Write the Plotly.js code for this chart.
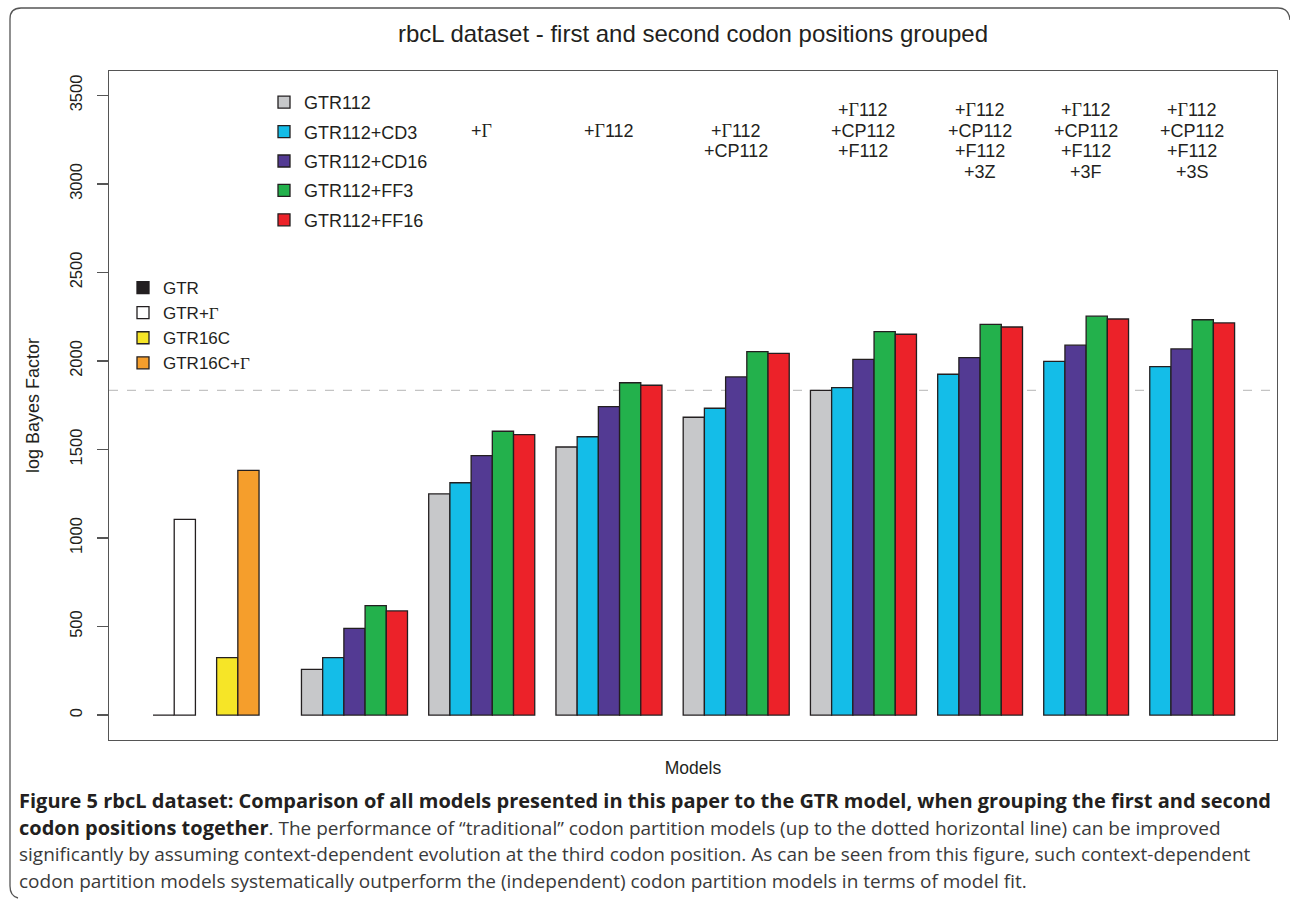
<!DOCTYPE html>
<html>
<head>
<meta charset="utf-8">
<script src="https://cdn.plot.ly/plotly-3.0.1.min.js"></script>
<style>
html,body{margin:0;padding:0;background:#ffffff;}
#chart{width:1290px;height:899px;}
</style>
</head>
<body>
<div id="chart"></div>
<script>
// ---------------- data ----------------
const baseModels = ['GTR', 'GTR+Γ', 'GTR16C', 'GTR16C+Γ'];
const baseValues = [0, 1105, 324, 1382];
const baseGroups = [[0, 1], [2, 3]];

const codonModels = ['GTR112', 'GTR112+CD3', 'GTR112+CD16', 'GTR112+FF3', 'GTR112+FF16'];
const groupLabels = [
  [],
  ['+Γ'],
  ['+Γ112'],
  ['+Γ112', '+CP112'],
  ['+Γ112', '+CP112', '+F112'],
  ['+Γ112', '+CP112', '+F112', '+3Z'],
  ['+Γ112', '+CP112', '+F112', '+3F'],
  ['+Γ112', '+CP112', '+F112', '+3S']
];
const gtr112     = [258, 1249, 1514, 1682, 1834, null, null, null];
const gtr112CD3  = [324, 1312, 1572, 1733, 1849, 1925, 1998, 1968];
const gtr112CD16 = [490, 1465, 1742, 1910, 2009, 2019, 2089, 2068];
const gtr112FF3  = [618, 1603, 1877, 2053, 2166, 2207, 2253, 2233];
const gtr112FF16 = [588, 1584, 1863, 2043, 2151, 2192, 2237, 2215];
const codonSeries = [gtr112, gtr112CD3, gtr112CD16, gtr112FF3, gtr112FF16];
const traditionalBest = 1834;
const yTicks = [0, 500, 1000, 1500, 2000, 2500, 3000, 3500];

const chartTitle = 'rbcL dataset - first and second codon positions grouped';
const xTitle = 'Models';
const yTitle = 'log Bayes Factor';
const captionLines = [
  '<b><span style="color:#231f20;font-size:20px">Figure 5 rbcL dataset: Comparison of all models presented in this paper to the GTR model, when grouping the first and second</span></b>',
  '<b><span style="color:#231f20;font-size:20px">codon positions together</span></b>. The performance of “traditional” codon partition models (up to the dotted horizontal line) can be improved',
  'significantly by assuming context-dependent evolution at the third codon position. As can be seen from this figure, such context-dependent',
  'codon partition models systematically outperform the (independent) codon partition models in terms of model fit.'
];

// ---------------- styles ----------------
const baseColors = ['#231f20', '#ffffff', '#f6e527', '#f59e2c'];
const codonColors = ['#c7c8ca', '#14bde8', '#533a93', '#23b14c', '#ec2229'];
const outline = '#231f20';
const SANS = 'Liberation Sans, Arial, sans-serif';
const SERIF = 'Liberation Serif, Times New Roman, serif';
const CAP = 'Open Sans, Noto Sans, sans-serif';

// ---------------- layout of bars (units) ----------------
const xBase = [];
let cursor = 0;
baseGroups.forEach((g, gi) => {
  if (gi > 0) cursor += 1;
  g.forEach(idx => { xBase[idx] = cursor + 0.5; cursor += 1; });
});
cursor += 2;
const codonX = codonSeries.map(() => []);
const groupCenters = [];
for (let g = 0; g < groupLabels.length; g++) {
  if (g > 0) cursor += 1;
  const start = cursor;
  codonSeries.forEach((s, si) => {
    if (s[g] !== null) { codonX[si][g] = cursor + 0.5; cursor += 1; }
    else codonX[si][g] = null;
  });
  groupCenters.push((start + cursor) / 2);
}

// pixel helpers for layout placement (plot area 109..1277 x 71..740)
const PL = 109, PR = 1277, PT = 71, PB = 740;
const px = x => (x - PL) / (PR - PL);
const py = y => (PB - y) / (PB - PT);

const gammaSerif = s => s.replace(/Γ/g, '<span style="font-family:' + SERIF + '">Γ</span>');

const traces = [];
codonModels.forEach((name, si) => {
  traces.push({
    type: 'bar', name: name, legend: 'legend', legendgroup: name,
    x: codonX[si], y: codonSeries[si], width: 1,
    marker: {color: codonColors[si], line: {color: outline, width: 1.3}},
    hoverinfo: 'x+y+name'
  });
});
baseModels.forEach((name, i) => {
  traces.push({
    type: 'bar', name: gammaSerif(name), legend: 'legend2',
    x: [xBase[i]], y: [baseValues[i]], width: 1,
    marker: {color: baseColors[i], line: {color: outline, width: 1.3}},
    hoverinfo: 'y+name'
  });
});

const annotations = [];
groupLabels.forEach((lines, g) => {
  const n = lines.length;
  const top = 3300 + 115 * Math.floor((n - 1) / 2);
  lines.forEach((t, i) => {
    annotations.push({
      x: groupCenters[g], xref: 'x', y: top - 115 * i, yref: 'y',
      text: gammaSerif(t), showarrow: false, xanchor: 'center', yanchor: 'middle',
      font: {family: SANS, size: 18, color: '#231f20'}
    });
  });
});
const capY = [801, 827, 854, 881];
captionLines.forEach((t, i) => {
  annotations.push({
    x: px(17), xref: 'paper', y: py(capY[i]), yref: 'paper',
    text: t, showarrow: false, xanchor: 'left', yanchor: 'middle', align: 'left',
    font: {family: CAP, size: 19, color: '#3a3a3a'}
  });
});

const framePath = 'M ' + px(1290) + ' ' + py(20) +
  ' Q ' + px(1289) + ' ' + py(8) + ' ' + px(1278) + ' ' + py(8) +
  ' L ' + px(21) + ' ' + py(8) +
  ' Q ' + px(10) + ' ' + py(8) + ' ' + px(10) + ' ' + py(19) +
  ' L ' + px(10) + ' ' + py(886) +
  ' Q ' + px(10) + ' ' + py(896) + ' ' + px(18) + ' ' + py(898);

const layout = {
  width: 1290, height: 899,
  margin: {l: PL, r: 1290 - PR, t: PT, b: 899 - PB, pad: 0},
  paper_bgcolor: '#ffffff', plot_bgcolor: '#ffffff',
  barmode: 'overlay',
  showlegend: true,
  title: {
    text: chartTitle, font: {family: SANS, size: 24, color: '#231f20'},
    x: 0.5, xref: 'paper', xanchor: 'center', y: 1 - 34 / 899, yref: 'container', yanchor: 'middle'
  },
  xaxis: {
    range: [-2.075, 53.0], showticklabels: false, ticks: '', showgrid: false, zeroline: false,
    showline: true, mirror: true, linecolor: '#555555', linewidth: 1.3,
    title: {text: xTitle, font: {family: SANS, size: 17.5, color: '#231f20'}, standoff: 21}
  },
  yaxis: {
    range: [-141, 3638], tickmode: 'array', tickvals: yTicks, ticktext: yTicks.map(String),
    ticks: 'outside', ticklen: 11, tickwidth: 1.2, tickcolor: '#555555', tickangle: -90,
    ticklabelstandoff: 8,
    tickfont: {family: SANS, size: 16.5, color: '#231f20'},
    showgrid: false, zeroline: false,
    showline: true, mirror: true, linecolor: '#555555', linewidth: 1.3,
    title: {text: yTitle, font: {family: SANS, size: 18, color: '#231f20'}, standoff: 22}
  },
  legend: {
    x: px(264), xanchor: 'left', y: py(84), yanchor: 'top',
    bgcolor: 'rgba(0,0,0,0)', borderwidth: 0, tracegroupgap: 3, traceorder: 'grouped',
    font: {family: SANS, size: 18, color: '#231f20'}
  },
  legend2: {
    x: px(123), xanchor: 'left', y: py(270), yanchor: 'top',
    bgcolor: 'rgba(0,0,0,0)', borderwidth: 0, traceorder: 'normal',
    font: {family: SANS, size: 17, color: '#231f20'}
  },
  shapes: [
    {type: 'line', xref: 'paper', x0: 0, x1: 1, yref: 'y', y0: traditionalBest, y1: traditionalBest,
     line: {color: '#c4c4c4', width: 1.2, dash: 'dash'}, layer: 'below'},
    {type: 'path', xref: 'paper', yref: 'paper', path: framePath,
     line: {color: '#555555', width: 1.3}, fillcolor: 'rgba(0,0,0,0)', layer: 'above'}
  ],
  annotations: annotations
};

Plotly.newPlot('chart', traces, layout, {staticPlot: true, displayModeBar: false});
</script>
</body>
</html>
